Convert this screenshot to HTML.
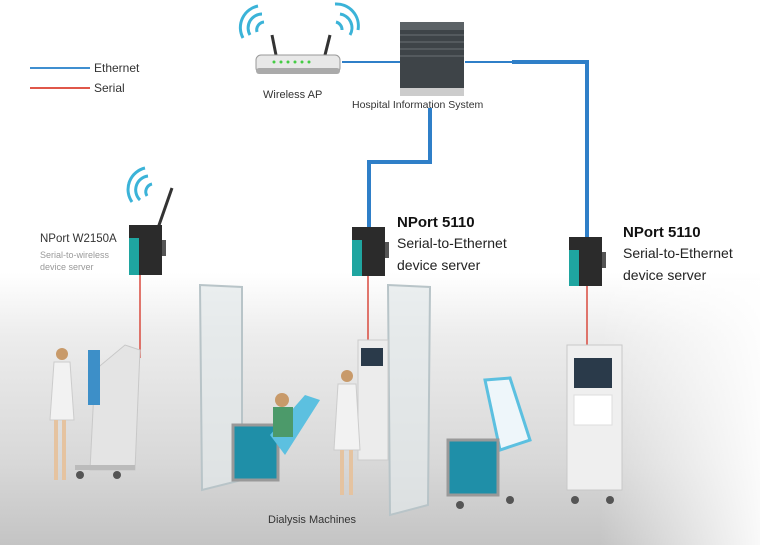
<!DOCTYPE html>
<html><head><meta charset="utf-8"><style>
html,body{margin:0;padding:0;background:#fff}
svg{display:block}
text{font-family:"Liberation Sans",sans-serif}
</style></head><body>
<svg width="760" height="545" viewBox="0 0 760 545" xmlns="http://www.w3.org/2000/svg">
<defs>
<linearGradient id="bg" x1="0" y1="0" x2="0" y2="1">
<stop offset="0" stop-color="#fff"/><stop offset="0.5" stop-color="#fff"/><stop offset="0.62" stop-color="#ececec"/><stop offset="0.85" stop-color="#d8d8d8"/><stop offset="1" stop-color="#c4c4c4"/>
</linearGradient>
<linearGradient id="rf" x1="0" y1="0" x2="1" y2="0"><stop offset="0" stop-color="#fff" stop-opacity="0"/><stop offset="1" stop-color="#fff" stop-opacity="0.9"/></linearGradient>
</defs>
<rect width="760" height="545" fill="url(#bg)"/>
<rect x="600" y="280" width="160" height="265" fill="url(#rf)"/>
<!-- legend -->
<line x1="30" y1="68" x2="90" y2="68" stroke="#3f8fd0" stroke-width="2"/>
<line x1="30" y1="88" x2="90" y2="88" stroke="#e0574a" stroke-width="2"/>
<text x="94" y="72" font-size="12" fill="#333">Ethernet</text>
<text x="94" y="92" font-size="12" fill="#333">Serial</text>
<!-- wifi arcs router -->
<g fill="none" stroke="#3bb3d8" stroke-width="3">
<path d="M250 35 A14 14 0 0 1 262 14"/><path d="M243 38 A22 22 0 0 1 258 6"/><path d="M257 32 A8 8 0 0 1 264 22"/>
<path d="M340 14 A14 14 0 0 1 350 35"/><path d="M335 4 A22 22 0 0 1 358 30"/><path d="M336 22 A8 8 0 0 1 342 30"/>
<path d="M140 200 A14 14 0 0 1 148 176"/><path d="M132 202 A22 22 0 0 1 145 168"/><path d="M147 196 A8 8 0 0 1 152 184"/>
</g>
<!-- router -->
<line x1="276" y1="55" x2="272" y2="35" stroke="#333" stroke-width="3"/>
<line x1="325" y1="55" x2="330" y2="35" stroke="#333" stroke-width="3"/>
<rect x="256" y="55" width="84" height="18" rx="5" fill="#e8e8e8" stroke="#999"/>
<rect x="256" y="68" width="84" height="6" rx="3" fill="#aaa"/>
<g fill="#4c4"><circle cx="274" cy="62" r="1.5"/><circle cx="281" cy="62" r="1.5"/><circle cx="288" cy="62" r="1.5"/><circle cx="295" cy="62" r="1.5"/><circle cx="302" cy="62" r="1.5"/><circle cx="309" cy="62" r="1.5"/></g>
<text x="263" y="98" font-size="11" fill="#333">Wireless AP</text>
<!-- ethernet lines -->
<g fill="none" stroke="#2f7fc8">
<line x1="342" y1="62" x2="402" y2="62" stroke-width="2"/>
<line x1="465" y1="62" x2="512" y2="62" stroke-width="2"/>
<polyline points="512,62 587,62 587,237" stroke-width="4"/>
<polyline points="430,108 430,162 369,162 369,228" stroke-width="4"/>
</g>
<!-- server -->
<rect x="400" y="22" width="64" height="72" fill="#3e4448"/>
<rect x="400" y="22" width="64" height="8" fill="#5c6266"/>
<g stroke="#6a7074"><line x1="400" y1="35" x2="464" y2="35"/><line x1="400" y1="42" x2="464" y2="42"/><line x1="400" y1="49" x2="464" y2="49"/><line x1="400" y1="56" x2="464" y2="56"/></g>
<rect x="400" y="88" width="64" height="8" fill="#ccc"/>
<text x="352" y="108" font-size="10.5" fill="#333">Hospital Information System</text>
<!-- serial lines -->
<g stroke="#d94a3e" stroke-width="1.5">
<line x1="140" y1="275" x2="140" y2="358"/>
<line x1="368" y1="275" x2="368" y2="342"/>
<line x1="587" y1="285" x2="587" y2="346"/>
</g>
<!-- nport devices -->
<line x1="158" y1="228" x2="172" y2="188" stroke="#333" stroke-width="3"/>
<g>
<rect x="129" y="225" width="33" height="50" fill="#2b2b2b"/><rect x="129" y="238" width="10" height="37" fill="#1fa5a0"/><rect x="162" y="240" width="4" height="16" fill="#555"/>
<rect x="352" y="227" width="33" height="49" fill="#2b2b2b"/><rect x="352" y="240" width="10" height="36" fill="#1fa5a0"/><rect x="385" y="242" width="4" height="16" fill="#555"/>
<rect x="569" y="237" width="33" height="49" fill="#2b2b2b"/><rect x="569" y="250" width="10" height="36" fill="#1fa5a0"/><rect x="602" y="252" width="4" height="16" fill="#555"/>
</g>
<text x="40" y="242" font-size="11.5" fill="#333">NPort W2150A</text>
<text x="40" y="258" font-size="9" fill="#999">Serial-to-wireless</text>
<text x="40" y="270" font-size="9" fill="#999">device server</text>
<text x="397" y="227" font-size="15" font-weight="bold" fill="#111">NPort 5110</text>
<text x="397" y="248" font-size="14" fill="#222">Serial-to-Ethernet</text>
<text x="397" y="270" font-size="14" fill="#222">device server</text>
<text x="623" y="237" font-size="15" font-weight="bold" fill="#111">NPort 5110</text>
<text x="623" y="258" font-size="14" fill="#222">Serial-to-Ethernet</text>
<text x="623" y="280" font-size="14" fill="#222">device server</text>
<!-- left machine -->
<polygon points="95,370 125,345 140,350 135,470 90,470" fill="#e4e4e4" stroke="#c8c8c8"/>
<rect x="88" y="350" width="12" height="55" fill="#3d8fc8"/>
<rect x="75" y="465" width="60" height="5" fill="#bbb"/>
<circle cx="80" cy="475" r="4" fill="#555"/><circle cx="117" cy="475" r="4" fill="#555"/>
<!-- left nurse -->
<circle cx="62" cy="354" r="6" fill="#c89a6a"/>
<path d="M54 362 L70 362 L74 420 L50 420 Z" fill="#f2f2f2" stroke="#ccc"/>
<rect x="54" y="420" width="4" height="60" fill="#e5c3a0"/><rect x="62" y="420" width="4" height="60" fill="#e5c3a0"/>
<!-- glass panels -->
<polygon points="200,285 242,287 242,480 202,490" fill="#e2e8ea" fill-opacity="0.7" stroke="#b8c4c8" stroke-width="2"/>
<polygon points="388,285 430,287 428,505 390,515" fill="#e2e8ea" fill-opacity="0.7" stroke="#b8c4c8" stroke-width="2"/>
<!-- middle machine -->
<rect x="358" y="340" width="30" height="120" fill="#ececec" stroke="#ccc"/>
<rect x="361" y="348" width="22" height="18" fill="#2a3a4a"/>
<!-- patient chair middle -->
<rect x="233" y="425" width="45" height="55" fill="#1f8fa8" stroke="#999" stroke-width="3"/>
<polygon points="270,435 305,395 320,400 285,455" fill="#5cc0e0"/>
<circle cx="282" cy="400" r="7" fill="#c89a6a"/>
<rect x="273" y="407" width="20" height="30" fill="#4c9a6a"/>
<!-- nurse middle -->
<circle cx="347" cy="376" r="6" fill="#c89a6a"/>
<path d="M338 384 L356 384 L360 450 L334 450 Z" fill="#f2f2f2" stroke="#ccc"/>
<rect x="340" y="450" width="4" height="45" fill="#e5c3a0"/><rect x="349" y="450" width="4" height="45" fill="#e5c3a0"/>
<!-- right chair -->
<polygon points="485,380 510,378 530,440 500,450" fill="#eef6fa" stroke="#5cc0e0" stroke-width="3"/>
<rect x="448" y="440" width="50" height="55" fill="#1f8fa8" stroke="#999" stroke-width="3"/>
<circle cx="460" cy="505" r="4" fill="#555"/><circle cx="510" cy="500" r="4" fill="#555"/>
<!-- right machine -->
<rect x="567" y="345" width="55" height="145" fill="#efefef" stroke="#c8c8c8"/>
<rect x="574" y="358" width="38" height="30" fill="#2a3a4a"/>
<rect x="574" y="395" width="38" height="30" fill="#fff" stroke="#ddd"/>
<circle cx="575" cy="500" r="4" fill="#555"/><circle cx="610" cy="500" r="4" fill="#555"/>
<text x="268" y="523" font-size="11" fill="#333">Dialysis Machines</text>
</svg>
</body></html>
